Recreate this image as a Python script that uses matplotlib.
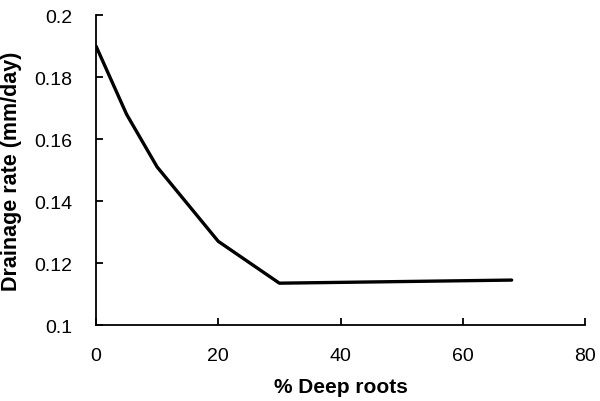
import matplotlib
matplotlib.use("Agg")
import matplotlib.pyplot as plt

# % deep roots vs drainage rate
deep_roots = [0, 5, 10, 20, 30, 68]
drainage = [0.190, 0.168, 0.151, 0.127, 0.1135, 0.1145]

x_ticks = [0, 20, 40, 60, 80]
y_ticks = [0.1, 0.12, 0.14, 0.16, 0.18, 0.2]
y_tick_labels = ["0.1", "0.12", "0.14", "0.16", "0.18", "0.2"]

plt.rcParams['font.family'] = ['Liberation Sans', 'DejaVu Sans']

fig = plt.figure(figsize=(6, 4.02), dpi=100)
ax = fig.add_axes([0.16, 0.189, 0.815, 0.771])

ax.plot(deep_roots, drainage, color='black', linewidth=2.4, solid_capstyle='round')

ax.set_xlim(0, 80)
ax.set_ylim(0.1, 0.2)
ax.set_xticks(x_ticks)
ax.set_yticks(y_ticks)
ax.set_yticklabels(y_tick_labels)

for side in ['top', 'right']:
    ax.spines[side].set_visible(False)
for side in ['left', 'bottom']:
    ax.spines[side].set_linewidth(1.3)

ax.tick_params(direction='in', length=5, width=1.3, labelsize=14)
ax.tick_params(axis='x', pad=16)
ax.tick_params(axis='y', pad=17)

ax.set_xlabel('% Deep roots', fontsize=15, fontweight='bold', labelpad=9)
ax.set_ylabel('Drainage rate (mm/day)', fontsize=15.5, fontweight='bold', labelpad=9)

fig.savefig('out.png', dpi=100)
